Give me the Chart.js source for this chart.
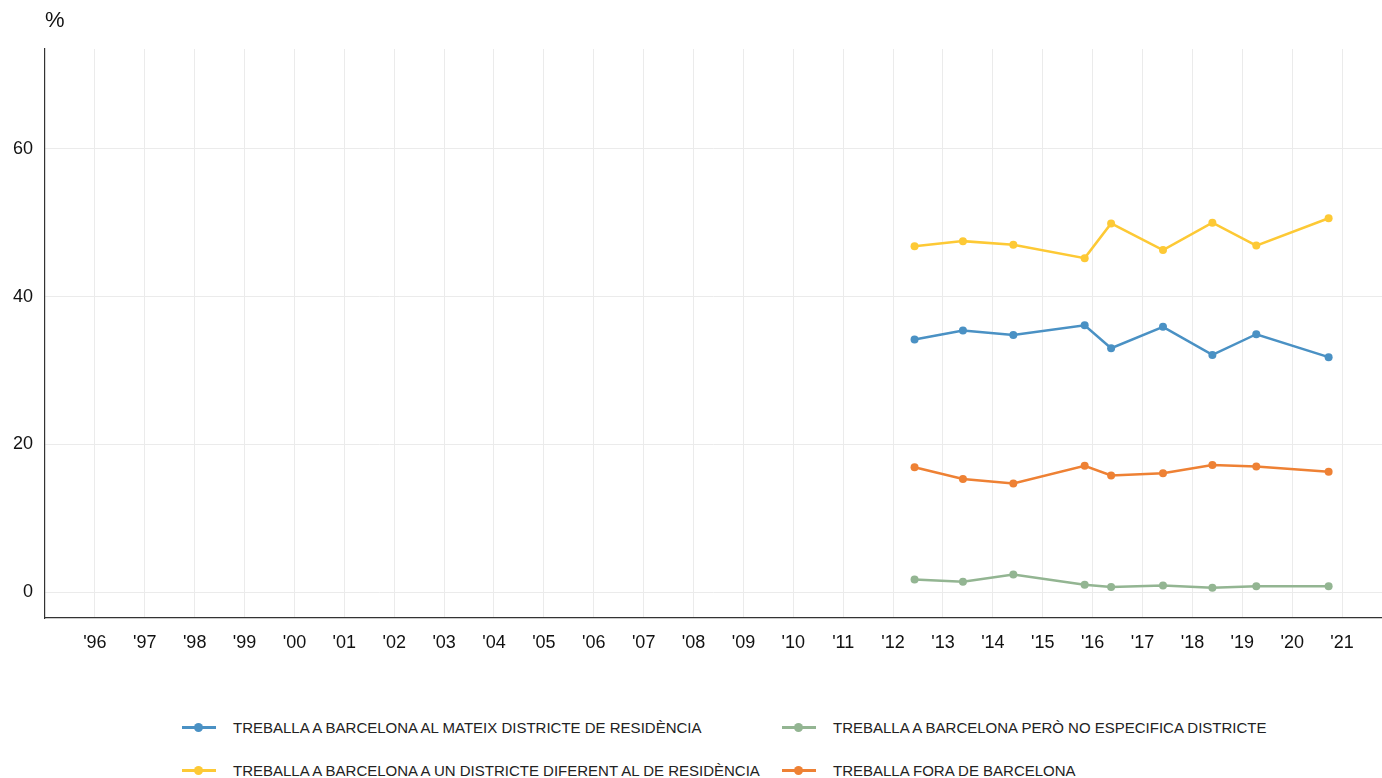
<!DOCTYPE html>
<html>
<head>
<meta charset="utf-8">
<script src="https://cdn.jsdelivr.net/npm/chart.js@4/dist/chart.umd.min.js"></script>
<style>
  html, body { margin: 0; padding: 0; background: #fff; }
  body { width: 1382px; height: 778px; position: relative; overflow: hidden;
         font-family: "Liberation Sans", Arial, Helvetica, sans-serif; }
  #wrap { position: absolute; left: 0; top: 0; width: 1386px; height: 680px; }
  #legend { position: absolute; left: 182px; top: 712px; display: grid;
            grid-template-columns: 600px auto; row-gap: 13px; }
  .item { display: flex; align-items: center; height: 30px; font-size: 15px; color: #222; }
  .mark { position: relative; width: 34px; height: 3px; margin-right: 17px; }
  .mark span { position: absolute; left: 12px; top: -3px; width: 9px; height: 9px; border-radius: 50%; }
</style>
</head>
<body>
<div id="wrap"><canvas id="grafica"></canvas></div>
<div id="legend"></div>
<script>
// dates of each survey wave (fractional years)
const surveyDates = [2012.43, 2013.40, 2014.41, 2015.84, 2016.37, 2017.41, 2018.40, 2019.28, 2020.73];

const seriesNames = [
    'TREBALLA A BARCELONA AL MATEIX DISTRICTE DE RESIDÈNCIA',
    'TREBALLA A BARCELONA PERÒ NO ESPECIFICA DISTRICTE',
    'TREBALLA A BARCELONA A UN DISTRICTE DIFERENT AL DE RESIDÈNCIA',
    'TREBALLA FORA DE BARCELONA'
];
const mateixDistricte = [34.2, 35.4, 34.8, 36.1, 33.0, 35.9, 32.1, 34.9, 31.8];
const noEspecifica = [1.7, 1.4, 2.4, 1.0, 0.7, 0.9, 0.6, 0.8, 0.8];
const altreDistricte = [46.8, 47.5, 47.0, 45.2, 49.9, 46.3, 50.0, 46.9, 50.6];
const foraBarcelona = [16.9, 15.3, 14.7, 17.1, 15.8, 16.1, 17.2, 17.0, 16.3];

const colors = ['#4a91c4', '#93b592', '#fdc935', '#ee8134'];

const tickYears = [1996, 1997, 1998, 1999, 2000, 2001, 2002, 2003, 2004, 2005, 2006, 2007, 2008,
                   2009, 2010, 2011, 2012, 2013, 2014, 2015, 2016, 2017, 2018, 2019, 2020, 2021];
const tickLabels = ["'96", "'97", "'98", "'99", "'00", "'01", "'02", "'03", "'04", "'05", "'06", "'07", "'08",
                    "'09", "'10", "'11", "'12", "'13", "'14", "'15", "'16", "'17", "'18", "'19", "'20", "'21"];
const yTicks = [0, 20, 40, 60];

const values = [mateixDistricte, noEspecifica, altreDistricte, foraBarcelona];

const datasets = values.map((serie, i) => ({
    label: seriesNames[i],
    data: serie.map((v, j) => ({ x: surveyDates[j], y: v })),
    borderColor: colors[i],
    backgroundColor: colors[i],
    borderWidth: 2.5,
    pointRadius: 4,
    pointHoverRadius: 4,
    pointBorderWidth: 0,
    tension: 0
}));

const font = "'Liberation Sans', Arial, Helvetica, sans-serif";

// "%" above the y axis
const percentTitle = {
    id: 'percentTitle',
    afterDraw(chart) {
        const ctx = chart.ctx;
        ctx.save();
        ctx.font = '22px ' + font;
        ctx.fillStyle = '#111';
        ctx.textBaseline = 'middle';
        ctx.fillText('%', chart.chartArea.left, 21);
        ctx.restore();
    }
};

const chart = new Chart(document.getElementById('grafica'), {
    type: 'line',
    data: { datasets: datasets },
    options: {
        responsive: true,
        maintainAspectRatio: false,
        animation: false,
        layout: { padding: { top: 49, right: 0, bottom: 0, left: 0 } },
        plugins: {
            legend: { display: false },
            tooltip: { enabled: false }
        },
        scales: {
            x: {
                type: 'linear',
                min: 1995,
                max: 2021.8,
                afterBuildTicks: axis => { axis.ticks = tickYears.map(v => ({ value: v })); },
                afterFit: axis => { axis.height = 62; },
                grid: { color: '#ebebeb', drawTicks: false },
                border: { display: true, color: '#333', width: 1.2 },
                ticks: {
                    padding: 14,
                    maxRotation: 0,
                    autoSkip: false,
                    color: '#111',
                    font: { family: font, size: 18 },
                    callback: v => tickLabels[tickYears.indexOf(v)]
                }
            },
            y: {
                min: -3.5,
                max: 73.5,
                afterBuildTicks: axis => { axis.ticks = yTicks.map(v => ({ value: v })); },
                afterFit: axis => { axis.width = 45; },
                grid: { color: '#ebebeb', drawTicks: false },
                border: { display: true, color: '#333', width: 1.2 },
                ticks: {
                    padding: 12,
                    color: '#111',
                    font: { family: font, size: 18 }
                }
            }
        }
    },
    plugins: [percentTitle]
});

// legend in two columns, built from the datasets
const legend = document.getElementById('legend');
[0, 1, 2, 3].forEach(i => {
    const ds = chart.data.datasets[i];
    const item = document.createElement('div');
    item.className = 'item';
    item.innerHTML = '<div class="mark" style="background:' + ds.borderColor + '"><span style="background:' +
        ds.borderColor + '"></span></div>' + ds.label;
    legend.appendChild(item);
});
</script>
</body>
</html>
